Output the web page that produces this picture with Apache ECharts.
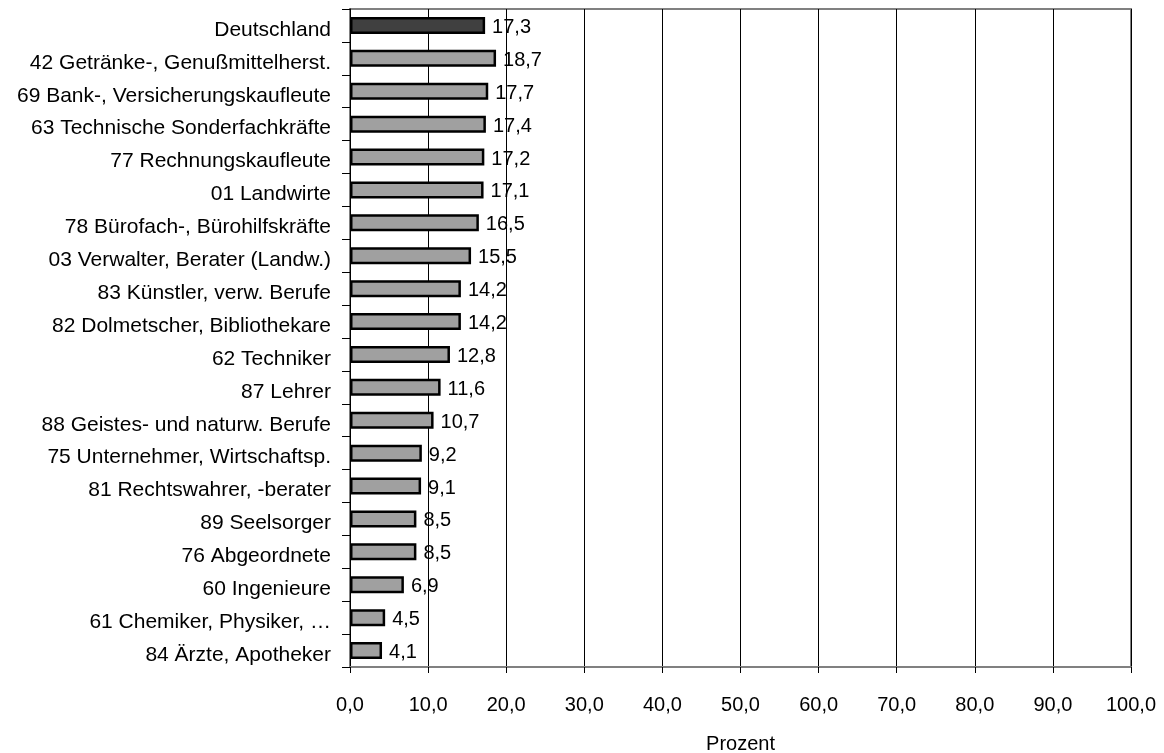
<!DOCTYPE html>
<html><head><meta charset="utf-8">
<script src="https://cdn.jsdelivr.net/npm/echarts@6/dist/echarts.min.js"></script>
<style>html,body{margin:0;padding:0;background:#fff}#c{width:1164px;height:753px}</style>
</head><body><div id="c"></div>
<script>
const categories = ["Deutschland","42 Getränke-, Genußmittelherst.","69 Bank-, Versicherungskaufleute","63 Technische Sonderfachkräfte","77 Rechnungskaufleute","01 Landwirte","78 Bürofach-, Bürohilfskräfte","03 Verwalter, Berater (Landw.)","83 Künstler, verw. Berufe","82 Dolmetscher, Bibliothekare","62 Techniker","87 Lehrer","88 Geistes- und naturw. Berufe","75 Unternehmer, Wirtschaftsp.","81 Rechtswahrer, -berater","89 Seelsorger","76 Abgeordnete","60 Ingenieure","61 Chemiker, Physiker, …","84 Ärzte, Apotheker"];
const values = [17.3,18.7,17.7,17.4,17.2,17.1,16.5,15.5,14.2,14.2,12.8,11.6,10.7,9.2,9.1,8.5,8.5,6.9,4.5,4.1];
const axisName = "Prozent";
const chart = echarts.init(document.getElementById('c'));
const font = 'Liberation Sans, Arial, sans-serif';
chart.setOption({
  animation:false,
  grid:{left:350,right:33,top:9,bottom:86,show:true,borderColor:'#808080',borderWidth:2,
    containLabel:false,outerBoundsMode:'none'},
  xAxis:{type:'value',min:0,max:100,interval:10,name:axisName,nameLocation:'middle',nameGap:67,
    nameTextStyle:{fontFamily:font,fontSize:20,color:'#000'},
    axisLine:{show:true,lineStyle:{color:'#808080',width:2}},
    axisTick:{show:true,length:6,lineStyle:{color:'#000'}},
    axisLabel:{margin:28,fontFamily:font,fontSize:20,color:'#000',formatter:v=>v.toFixed(1).replace('.',',')},
    splitLine:{show:true,lineStyle:{color:'#000',width:1}}},
  yAxis:{type:'category',data:categories,inverse:true,
    axisLine:{show:true,lineStyle:{color:'#000',width:1}},
    axisTick:{show:true,length:8,lineStyle:{color:'#000'}},
    axisLabel:{margin:19,fontFamily:font,fontSize:21,color:'#000',verticalAlign:'top',lineHeight:9},
    splitLine:{show:false}},
  series:[{type:'bar',barWidth:17,
    data:values.map((v,i)=>({value:v,itemStyle:{color:i===0?'#404040':'#a0a0a0'}})),
    itemStyle:{borderColor:'#000',borderWidth:2.5},
    label:{show:true,position:'right',distance:7,offset:[0,2],fontFamily:font,fontSize:20,color:'#000',
      formatter:p=>p.value.toFixed(1).replace('.',',')}}]
});
</script></body></html>
